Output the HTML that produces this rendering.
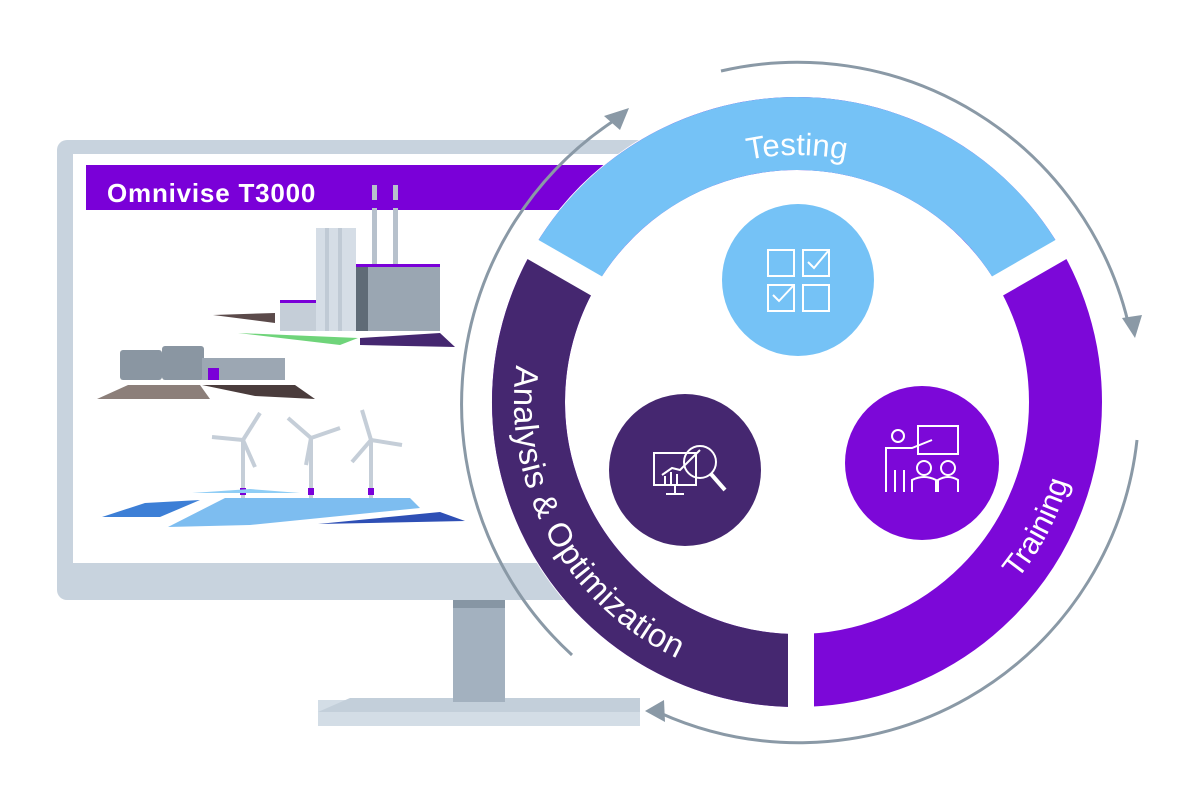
<!DOCTYPE html>
<html><head><meta charset="utf-8"><style>
html,body{margin:0;padding:0;background:#fff;}
svg{display:block;font-family:"Liberation Sans",sans-serif;}
</style></head><body>
<svg width="1200" height="801" viewBox="0 0 1200 801" xmlns="http://www.w3.org/2000/svg">
<defs>
<path id="pT" d="M 583.1 278.5 A 247 247 0 0 1 1010.9 278.5"/>
<path id="pA" d="M 551.9 260.5 A 283 283 0 0 0 797 685"/>
<path id="pR" d="M 797 685 A 283 283 0 0 0 1042.1 260.5"/>
</defs>

<!-- Monitor -->
<rect x="318" y="700" width="322" height="26" fill="#d3dde6"/>
<polygon points="318,712 350,698 640,698 640,712" fill="#c3cfda"/>
<rect x="453" y="598" width="52" height="104" fill="#a3b1bf"/>
<rect x="453" y="598" width="52" height="10" fill="#8796a4"/>
<rect x="57" y="140" width="600" height="460" rx="10" fill="#c8d3de"/>
<rect x="73" y="154" width="584" height="409" fill="#fff"/>
<rect x="86" y="165" width="560" height="45" fill="#7a00d8"/>
<text x="107" y="202" font-size="26" font-weight="bold" letter-spacing="0.8" fill="#fff">Omnivise T3000</text>

<!-- plant -->
<rect x="372" y="185" width="5" height="105" fill="#b7c1cc"/><rect x="372" y="200" width="5" height="8" fill="#7a00d8"/>
<rect x="393" y="185" width="5" height="105" fill="#b7c1cc"/><rect x="393" y="200" width="5" height="8" fill="#7a00d8"/>
<rect x="316" y="228" width="40" height="103" fill="#d5dde6"/>
<rect x="325" y="228" width="4" height="103" fill="#c0cad5"/><rect x="338" y="228" width="4" height="103" fill="#c0cad5"/>
<rect x="356" y="266" width="84" height="65" fill="#9aa6b2"/>
<rect x="356" y="266" width="12" height="65" fill="#5f6b77"/>
<rect x="356" y="264" width="84" height="3" fill="#7a00d8"/>
<rect x="280" y="302" width="36" height="29" fill="#c5ced8"/>
<rect x="280" y="300" width="36" height="3" fill="#7a00d8"/>
<polygon points="213,315 275,313 275,323" fill="#5b4a4a"/>
<polygon points="238,333 358,338 340,345" fill="#6fd47a"/>
<polygon points="360,338 440,333 455,347 360,345" fill="#452770"/>
<!-- biogas -->
<rect x="120" y="350" width="42" height="30" rx="3" fill="#8a96a2"/>
<rect x="162" y="346" width="42" height="34" rx="3" fill="#8a96a2"/>
<rect x="202" y="358" width="83" height="22" fill="#9ca7b3"/>
<rect x="208" y="368" width="11" height="12" fill="#7a00d8"/>
<polygon points="97,399 128,385 200,385 210,399" fill="#8c7f7a"/>
<polygon points="202,385 295,385 315,399 255,396" fill="#4a3c3c"/>
<!-- wind -->
<g stroke="#c5ced8" stroke-width="4" fill="none">
<line x1="243" y1="440" x2="243" y2="505"/><line x1="243" y1="440" x2="260" y2="413"/><line x1="243" y1="440" x2="212" y2="437"/><line x1="243" y1="440" x2="255" y2="467"/>
<line x1="311" y1="438" x2="311" y2="505"/><line x1="311" y1="438" x2="288" y2="418"/><line x1="311" y1="438" x2="340" y2="428"/><line x1="311" y1="438" x2="306" y2="465"/>
<line x1="371" y1="440" x2="371" y2="505"/><line x1="371" y1="440" x2="362" y2="410"/><line x1="371" y1="440" x2="402" y2="445"/><line x1="371" y1="440" x2="352" y2="462"/>
</g>
<rect x="240" y="488" width="6" height="7" fill="#7a00d8"/><rect x="308" y="488" width="6" height="7" fill="#7a00d8"/><rect x="368" y="488" width="6" height="7" fill="#7a00d8"/>
<polygon points="192,493 250,489 300,493" fill="#8fcdf5"/>
<polygon points="102,517 145,503 200,500 160,517" fill="#3d7fd6"/>
<polygon points="168,527 225,498 410,498 420,508 250,525" fill="#7dbdf0"/>
<polygon points="318,524 440,512 465,521" fill="#2e4fb5"/>

<!-- white disc -->
<circle cx="797" cy="402" r="306" fill="#fff"/>

<!-- ring -->
<circle cx="797" cy="402" r="268.5" fill="none" stroke="#7c08d8" stroke-width="73"/>
<path d="M 564.5 267.7 A 268.5 268.5 0 0 1 1029.5 267.7" fill="none" stroke="#75c2f6" stroke-width="73"/>
<path d="M 564.5 267.7 A 268.5 268.5 0 0 0 801 670.5" fill="none" stroke="#452770" stroke-width="73"/>
<g stroke="#fff" stroke-width="22">
<line x1="607" y1="292" x2="520" y2="242"/>
<line x1="987" y1="292" x2="1074" y2="242"/>
</g>
<rect x="788" y="620" width="26" height="95" fill="#fff"/>

<text font-size="31" fill="#fff" text-anchor="middle"><textPath href="#pT" startOffset="50%">Testing</textPath></text>
<text font-size="33" fill="#fff" text-anchor="middle" letter-spacing="0.5"><textPath href="#pA" startOffset="49%">Analysis &amp; Optimization</textPath></text>
<text font-size="31" fill="#fff" text-anchor="middle"><textPath href="#pR" startOffset="52%">Training</textPath></text>

<!-- circles -->
<circle cx="798" cy="280" r="76" fill="#75c2f6"/>
<circle cx="685" cy="470" r="76" fill="#452770"/>
<circle cx="922" cy="463" r="77" fill="#7c08d8"/>
<g stroke="#fff" stroke-width="2" fill="none">
<rect x="768" y="250" width="26" height="26"/><rect x="803" y="250" width="26" height="26"/><rect x="768" y="285" width="26" height="26"/><rect x="803" y="285" width="26" height="26"/>
<polyline points="808,262 814,268 829,250"/><polyline points="773,295 779,301 794,285"/>
<rect x="654" y="453" width="42" height="32"/><line x1="675" y1="485" x2="675" y2="494"/><line x1="666" y1="494" x2="684" y2="494"/>
<circle cx="700" cy="462" r="16"/><line x1="711" y1="474" x2="725" y2="490" stroke-width="4"/>
<polyline points="662,475 672,468 680,470 700,450"/>
<line x1="665" y1="484" x2="665" y2="476"/><line x1="671" y1="484" x2="671" y2="472"/><line x1="677" y1="484" x2="677" y2="474"/>
<rect x="918" y="426" width="40" height="28"/>
<circle cx="898" cy="436" r="6"/><polyline points="886,492 886,448 912,448 932,440"/><line x1="895" y1="470" x2="895" y2="492"/><line x1="904" y1="470" x2="904" y2="492"/>
<circle cx="924" cy="468" r="7"/><path d="M912 492 v-12 q12-6 24 0 v12"/>
<circle cx="948" cy="468" r="7"/><path d="M938 492 v-12 q10-6 20 0 v12"/>
</g>

<!-- outer arrows -->
<g stroke="#8a99a6" stroke-width="3" fill="none">
<path d="M 721 71 A 340 340 0 0 1 1128 322"/>
<path d="M 1137 440 A 340 340 0 0 1 660 713"/>
<path d="M 572 655 A 340 340 0 0 1 618 118"/>
</g>
<g fill="#8a99a6">
<polygon points="1135,338 1122,318 1142,315"/>
<polygon points="645,711 664,700 665,722"/>
<polygon points="629,108 604,116 620,130"/>
</g>
</svg>
</body></html>
